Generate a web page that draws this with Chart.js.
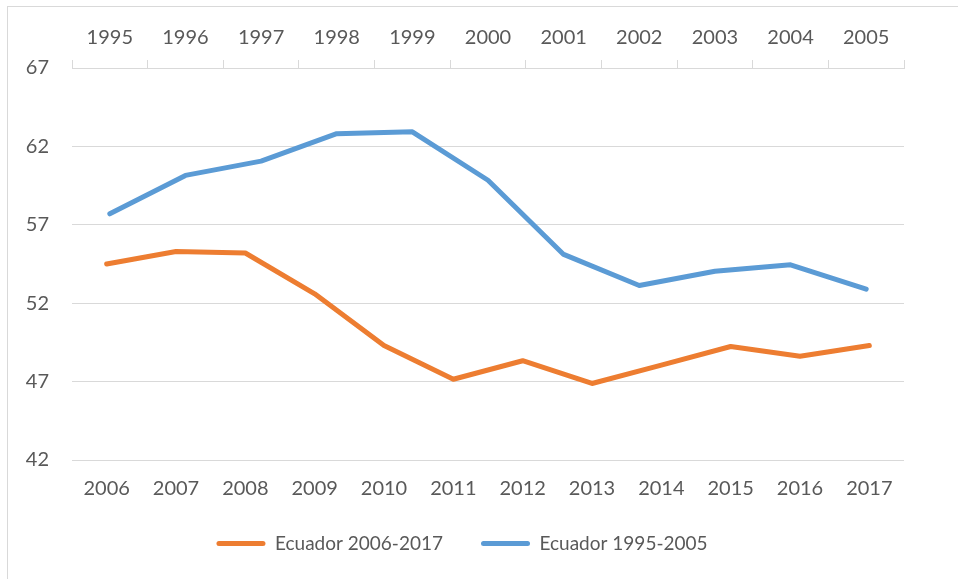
<!DOCTYPE html>
<html>
<head>
<meta charset="utf-8">
<script src="https://cdn.jsdelivr.net/npm/chart.js@4"></script>
<style>
html,body{margin:0;padding:0;background:#fff;overflow:hidden;}
#wrap{position:relative;width:958px;height:579px;overflow:hidden;}
#frame{position:absolute;left:7px;top:6px;width:960px;height:600px;border:1px solid #d9d9d9;box-sizing:border-box;}
canvas{position:absolute;left:0;top:0;}
</style>
</head>
<body>
<div id="wrap"><div id="frame"></div><canvas id="c" width="958" height="579"></canvas></div>
<script>
const bottomLabels = ['2006','2007','2008','2009','2010','2011','2012','2013','2014','2015','2016','2017'];
const topLabels = ['1995','1996','1997','1998','1999','2000','2001','2002','2003','2004','2005'];
const yTickValues = [42, 47, 52, 57, 62, 67];
const ecuador2006_2017 = [54.5, 55.3, 55.2, 52.6, 49.3, 47.15, 48.33, 46.88, 48.05, 49.24, 48.62, 49.3];
const ecuador1995_2005 = [57.7, 60.15, 61.06, 62.81, 62.93, 59.84, 55.11, 53.13, 54.04, 54.45, 52.89];

const FONT = 'Lato';
const TXT = '#595959';
const GRID = '#d9d9d9';
const ORANGE = '#ED7D31';
const BLUE = '#5B9BD5';
const TICK_SIZE = 20;

const setTicks = s => { s.ticks = yTickValues.map(v => ({value: v})); };

new Chart(document.getElementById('c'), {
  type: 'line',
  data: {
    labels: bottomLabels,
    datasets: [
      {
        label: 'Ecuador 2006-2017',
        data: ecuador2006_2017,
        xAxisID: 'x', yAxisID: 'y',
        borderColor: ORANGE, backgroundColor: ORANGE,
        borderWidth: 5, pointRadius: 0, tension: 0,
        borderCapStyle: 'round', borderJoinStyle: 'round'
      },
      {
        label: 'Ecuador 1995-2005',
        data: ecuador1995_2005,
        xAxisID: 'x2', yAxisID: 'y',
        borderColor: BLUE, backgroundColor: BLUE,
        borderWidth: 5, pointRadius: 0, tension: 0,
        borderCapStyle: 'round', borderJoinStyle: 'round'
      }
    ]
  },
  options: {
    responsive: false,
    animation: false,
    devicePixelRatio: 1,
    layout: { padding: { left: 0, right: 34, top: 0, bottom: 16 } },
    plugins: {
      tooltip: { enabled: false },
      legend: {
        position: 'bottom',
        labels: {
          boxWidth: 49,
          boxHeight: 5,
          padding: 38,
          color: TXT,
          font: { family: FONT, size: 19 },
          generateLabels: chart => Chart.defaults.plugins.legend.labels.generateLabels(chart)
            .map(l => Object.assign(l, { fillStyle: l.strokeStyle, lineWidth: 0, borderRadius: 2.5 }))
        }
      }
    },
    scales: {
      x: {
        type: 'category',
        position: 'bottom',
        labels: bottomLabels,
        offset: true,
        grid: { display: false, drawTicks: false },
        border: { display: false },
        ticks: { color: TXT, font: { family: FONT, size: TICK_SIZE }, padding: 17, maxRotation: 0, autoSkip: false },
        afterFit: s => { s.height = 36; }
      },
      x2: {
        type: 'category',
        position: 'top',
        labels: topLabels,
        offset: true,
        grid: { display: true, drawOnChartArea: false, drawTicks: true, tickLength: 8, offset: true, color: GRID },
        border: { display: true, color: GRID, width: 1 },
        ticks: { color: TXT, font: { family: FONT, size: TICK_SIZE }, padding: 10, maxRotation: 0, autoSkip: false },
        afterFit: s => { s.height = 68; }
      },
      y: {
        position: 'left',
        min: 42, max: 67,
        afterBuildTicks: setTicks,
        grid: { color: GRID, lineWidth: 1, drawTicks: false },
        border: { display: false },
        ticks: { color: TXT, font: { family: FONT, size: TICK_SIZE }, padding: 23 },
        afterFit: s => { s.width = 72; }
      },
      y2: {
        position: 'right',
        min: 42, max: 67,
        afterBuildTicks: setTicks,
        grid: { drawOnChartArea: false, drawTicks: false },
        border: { display: false },
        ticks: { color: TXT, font: { family: FONT, size: TICK_SIZE }, padding: 23 },
        afterFit: s => { s.width = 20; }
      }
    }
  }
});
</script>
</body>
</html>
